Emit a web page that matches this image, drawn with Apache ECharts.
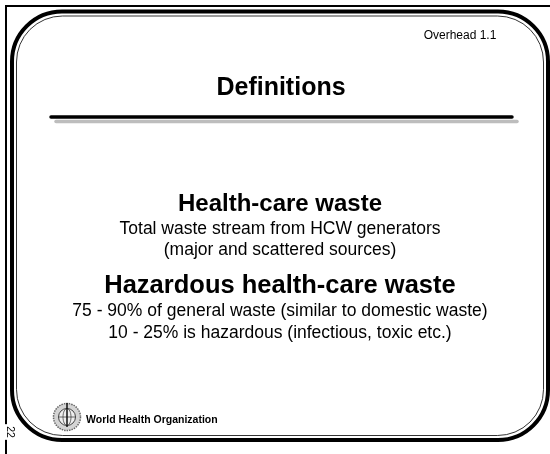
<!DOCTYPE html>
<html>
<head>
<meta charset="utf-8">
<script src="https://cdn.jsdelivr.net/npm/echarts@6/dist/echarts.min.js"></script>
<style>
  html, body { margin: 0; padding: 0; background: #fff; }
  #main { width: 550px; height: 454px; }
</style>
</head>
<body>
<div id="main"></div>
<script>
// slide texts
const slideTitle = 'Definitions'
const slideTag = 'Overhead 1.1'
const headings = ['Health-care waste', 'Hazardous health-care waste']
const headingNotes = [
  ['Total waste stream from HCW generators', '(major and scattered sources)'],
  ['75 - 90% of general waste (similar to domestic waste)', '10 - 25% is hazardous (infectious, toxic etc.)']
]
const footerText = 'World Health Organization'
const pageNumber = '22'

const FONT = 'Liberation Sans, Arial, sans-serif'
const chart = echarts.init(document.getElementById('main'))

function txt(text, x, y, size, bold, more) {
  return Object.assign({
    type: 'text',
    x: x,
    y: y,
    style: Object.assign({
      text: text,
      font: (bold ? 'bold ' : '') + size + 'px ' + FONT,
      fill: '#000',
      align: 'center',
      verticalAlign: 'middle'
    }, (more && more.style) || {})
  }, more && more.rotation ? { rotation: more.rotation } : {})
}

const elements = []

// outer page frame (runs off the right / bottom)
elements.push({
  type: 'rect',
  shape: { x: 6, y: 6, width: 600, height: 500 },
  style: { fill: null, stroke: '#000', lineWidth: 2 }
})
// rounded slide border: thick line + thin inner line
elements.push({
  type: 'rect',
  shape: { x: 12, y: 11.5, width: 536, height: 428.5, r: 50 },
  style: { fill: '#fff', stroke: '#000', lineWidth: 4 }
})
elements.push({
  type: 'rect',
  shape: { x: 16.5, y: 16, width: 527, height: 419.5, r: 46 },
  style: { fill: null, stroke: '#000', lineWidth: 0.8 }
})

// title rule with grey shadow
elements.push({
  type: 'line',
  shape: { x1: 56, y1: 121.5, x2: 517, y2: 121.5 },
  style: { stroke: '#bdbdbd', lineWidth: 3.5, lineCap: 'round' }
})
elements.push({
  type: 'line',
  shape: { x1: 51, y1: 117, x2: 512, y2: 117 },
  style: { stroke: '#000', lineWidth: 3.5, lineCap: 'round' }
})

elements.push(txt(slideTag, 460, 36, 12, false))
elements.push(txt(slideTitle, 281, 88, 25, true))

// body
const cxText = 280
const headY = [204, 286]
const headSize = [24, 25.5]
const noteY = [[229, 250], [311, 333]]
headings.forEach(function (h, i) {
  elements.push(txt(h, cxText, headY[i], headSize[i], true))
  headingNotes[i].forEach(function (n, j) {
    elements.push(txt(n, cxText, noteY[i][j], 17.5, false))
  })
})

// WHO emblem (simplified)
const cx = 67, cy = 417
elements.push({
  type: 'circle',
  shape: { cx: cx, cy: cy, r: 13.5 },
  style: { fill: '#d4d4d4', stroke: '#666', lineWidth: 1.5, lineDash: [1.5, 1] }
})
elements.push({
  type: 'circle',
  shape: { cx: cx, cy: cy, r: 8.5 },
  style: { fill: '#eee', stroke: '#444', lineWidth: 1 }
})
elements.push({
  type: 'line',
  shape: { x1: cx - 8.5, y1: cy, x2: cx + 8.5, y2: cy },
  style: { stroke: '#444', lineWidth: 0.8 }
})
elements.push({
  type: 'ellipse',
  shape: { cx: cx, cy: cy, rx: 4, ry: 8.5 },
  style: { fill: null, stroke: '#444', lineWidth: 0.8 }
})
elements.push({
  type: 'line',
  shape: { x1: cx, y1: cy - 14, x2: cx, y2: cy + 10 },
  style: { stroke: '#111', lineWidth: 1.5 }
})
elements.push(txt(footerText, 86, 420, 10.5, true, { style: { align: 'left' } }))

// sideways page number
elements.push(txt(pageNumber, 10, 432, 10.5, false, {
  rotation: -Math.PI / 2,
  style: { backgroundColor: '#fff', padding: [0, 2] }
}))

chart.setOption({
  backgroundColor: '#fff',
  animation: false,
  graphic: { elements: elements }
})
</script>
</body>
</html>
